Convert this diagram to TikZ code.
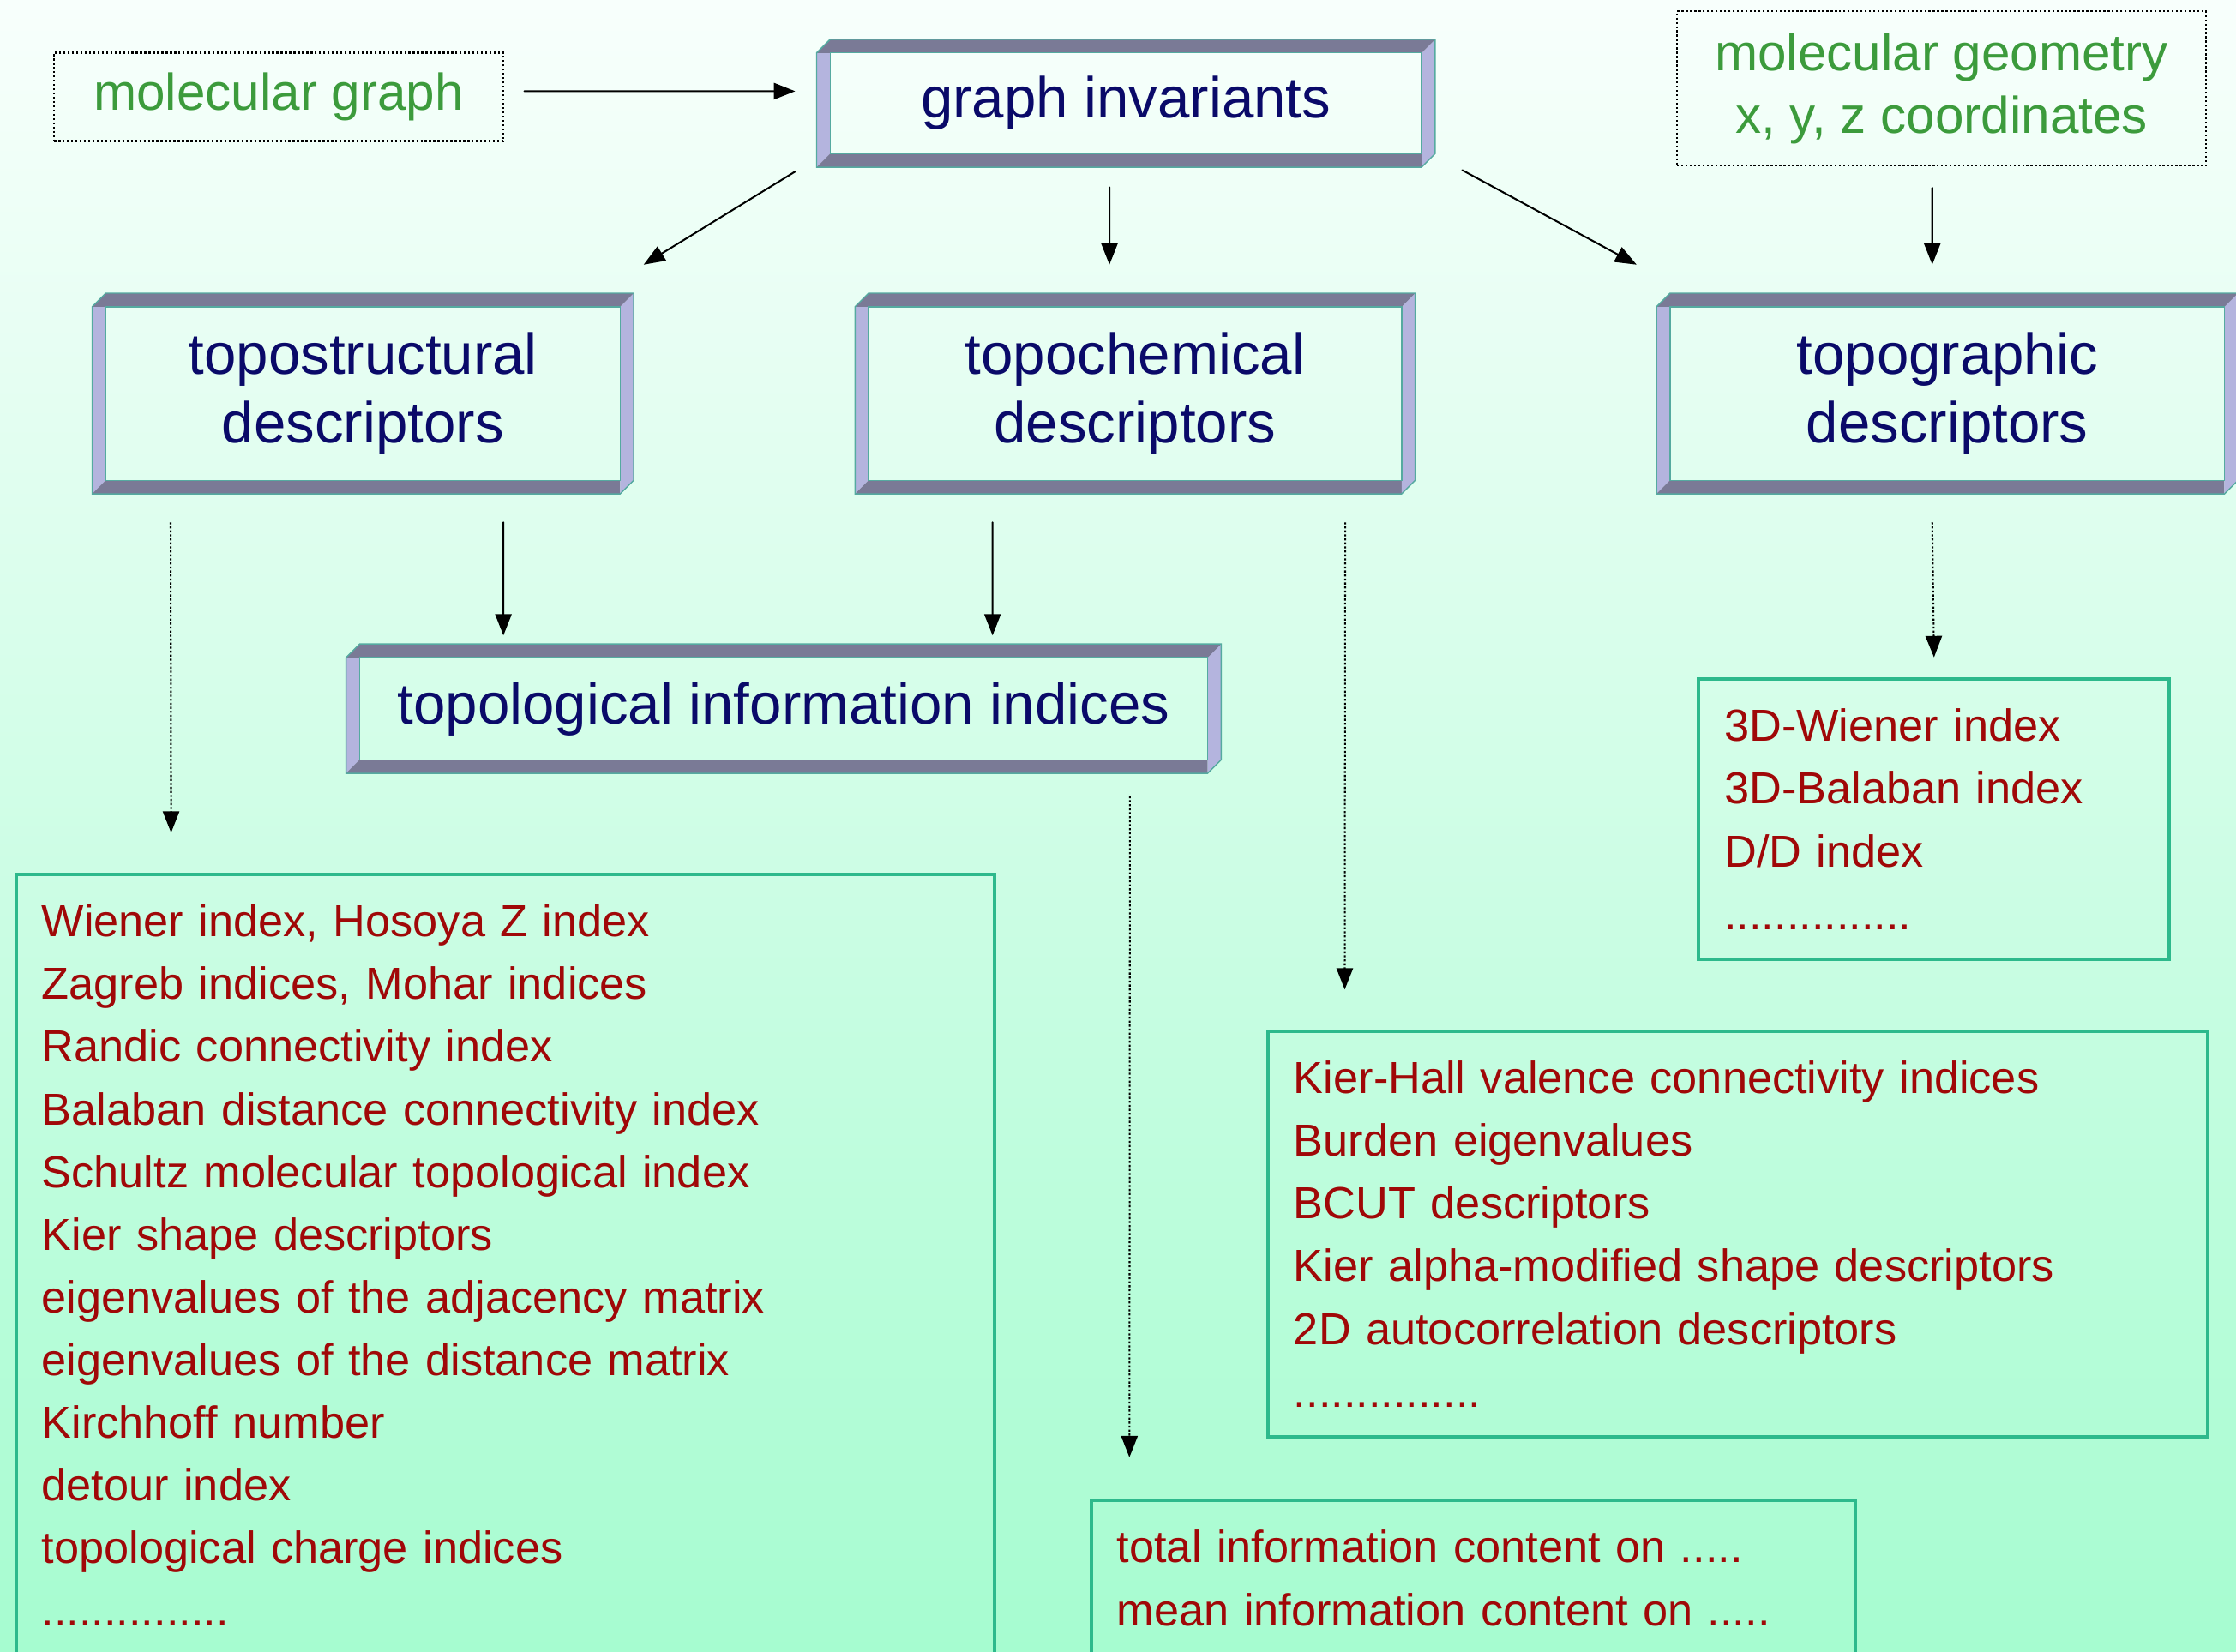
\documentclass[tikz,border=0pt]{standalone}
\usepackage{fontspec}
\setmainfont{Liberation Sans}
\usepackage{tikz}
\usetikzlibrary{arrows.meta}

%bevelled frame round a named node
\newcommand{\bevelw}{0.19cm}
\newcommand{\bevelframe}[1]{%
	\fill[bevellight] ([yshift=-\bevelw]#1.north west) -- ([shift={(\bevelw,-\bevelw)}]#1.north west) -- ([shift={(\bevelw,\bevelw)}]#1.south west) -- (#1.south west) -- cycle;
	\fill[beveldark] (#1.south west) -- ([shift={(\bevelw,\bevelw)}]#1.south west) -- ([shift={(-\bevelw,\bevelw)}]#1.south east) -- ([xshift=-\bevelw]#1.south east) -- cycle;
	\fill[bevellight] ([shift={(-\bevelw,-\bevelw)}]#1.north east) -- (#1.north east) -- ([yshift=\bevelw]#1.south east) -- ([xshift=-\bevelw]#1.south east) -- cycle;
	\fill[beveldark] ([yshift=-\bevelw]#1.north west) -- ([xshift=\bevelw]#1.north west) -- (#1.north east) -- ([shift={(-\bevelw,-\bevelw)}]#1.north east) -- cycle;
	\draw[beveledge,line width=0.5pt] ([shift={(\bevelw,-\bevelw)}]#1.north west) rectangle ([shift={(-\bevelw,\bevelw)}]#1.south east);
	\draw[beveledge,line width=0.5pt] ([yshift=-\bevelw]#1.north west) -- ([xshift=\bevelw]#1.north west) -- (#1.north east) -- ([yshift=\bevelw]#1.south east) -- ([xshift=-\bevelw]#1.south east) -- (#1.south west) -- cycle;
}

\begin{document}
\begin{tikzpicture}
		[scale=1,line cap=round,
		%Styles
		titlebox/.style={text=titleblue,font=\fontsize{23}{27.3}\selectfont,align=center,inner sep=0pt},
		sourcebox/.style={draw,line cap=butt,dash pattern=on 0.8pt off 0.9pt,line width=0.8pt,text=sourcegreen,font=\fontsize{20.6}{25}\selectfont,align=center,inner sep=0pt},
		itembox/.style={draw=itemedge,line width=1.4pt,text=itemred,font=\fontsize{17.9}{25}\selectfont,align=left,anchor=north west,inner xsep=0.36cm,inner ysep=0.42cm},
		arrowline/.style={line width=0.7pt,-{Triangle[length=0.3cm,width=0.23cm]}},
		dotline/.style={arrowline,line cap=butt,dash pattern=on 0.8pt off 0.8pt}
		]
		
		%Colors
		\definecolor{bgtop}{RGB}{248,255,252}
		\definecolor{bgbottom}{RGB}{166,252,208}
		\definecolor{titleblue}{RGB}{10,10,105}
		\definecolor{sourcegreen}{RGB}{60,155,60}
		\definecolor{itemred}{RGB}{160,8,8}
		\definecolor{itemedge}{RGB}{45,185,140}
		\definecolor{beveldark}{RGB}{122,122,150}
		\definecolor{bevellight}{RGB}{180,180,222}
		\definecolor{beveledge}{RGB}{85,170,160}
		
		%Background
		\useasboundingbox (0,0) rectangle (31.36,23.16);
		\shade[top color=bgtop,bottom color=bgbottom] (0,0) rectangle (31.36,23.16);
		
		%Inputs
		\node[sourcebox,minimum width=6.30cm,minimum height=1.24cm] (molgraph) at (3.91,21.80) {molecular graph};
		\node[sourcebox,minimum width=7.42cm,minimum height=2.16cm] (geometry) at (27.23,21.92) {molecular geometry\\x, y, z coordinates};
		
		%Bevelled boxes
		\node[titlebox,minimum width=8.66cm,minimum height=1.78cm] (invariants) at (15.79,21.71) {graph invariants};
		\node[titlebox,minimum width=7.58cm,minimum height=2.80cm] (structural) at (5.09,17.64) {topostructural\\descriptors};
		\node[titlebox,minimum width=7.84cm,minimum height=2.80cm] (chemical) at (15.92,17.64) {topochemical\\descriptors};
		\node[titlebox,minimum width=8.14cm,minimum height=2.80cm] (graphic) at (27.31,17.64) {topographic\\descriptors};
		\node[titlebox,minimum width=12.26cm,minimum height=1.80cm] (information) at (10.99,13.22) {topological information indices};
		\foreach \b in {invariants,structural,chemical,graphic,information}
			\bevelframe{\b};
		
		%Lists
		\node[itembox,text width=13.0cm] (structlist) at (0.20,10.92) {Wiener index, Hosoya Z index\\Zagreb indices, Mohar indices\\Randic connectivity index\\Balaban distance connectivity index\\Schultz molecular topological index\\Kier shape descriptors\\eigenvalues of the adjacency matrix\\eigenvalues of the distance matrix\\Kirchhoff number\\detour index\\topological charge indices\\...............};
		\node[itembox,text width=12.46cm] (chemlist) at (17.76,8.72) {Kier-Hall valence connectivity indices\\Burden eigenvalues\\BCUT descriptors\\Kier alpha-modified shape descriptors\\2D autocorrelation descriptors\\...............};
		\node[itembox,text width=5.88cm] (graphlist) at (23.80,13.66) {3D-Wiener index\\3D-Balaban index\\D/D index\\...............};
		\node[itembox,text width=10.0cm] (infolist) at (15.28,2.14) {total information content on .....\\mean information content on .....};
		
		%Connectors
		\draw[arrowline] ([shift={(0.28,0.08)}]molgraph.east) -- ([shift={(-0.30,0.17)}]invariants.west);
		\draw[arrowline] ([shift={(-0.30,-0.06)}]invariants.south west) -- ([shift={(0.14,0.40)}]structural.north east);
		\draw[arrowline] ([shift={(-0.23,-0.28)}]invariants.south) -- ([shift={(-0.36,0.40)}]chemical.north);
		\draw[arrowline] ([shift={(0.38,-0.04)}]invariants.south east) -- ([shift={(-0.28,0.40)}]graphic.north west);
		\draw[arrowline] ([shift={(-0.13,-0.30)}]geometry.south) -- ([shift={(-0.21,0.40)}]graphic.north);
		
		\draw[dotline] ([shift={(1.10,-0.40)}]structural.south west) -- ([shift={(2.20,0.56)}]structlist.north west);
		\draw[arrowline] ([shift={(1.97,-0.40)}]structural.south) -- ([shift={(-3.93,0.12)}]information.north);
		\draw[arrowline] ([shift={(-2.00,-0.40)}]chemical.south) -- ([shift={(2.93,0.12)}]information.north);
		\draw[dotline] ([shift={(-0.98,-0.40)}]chemical.south east) -- ([shift={(1.10,0.56)}]chemlist.north west);
		\draw[dotline] ([shift={(-0.21,-0.40)}]graphic.south) -- ([yshift=0.28cm]graphlist.north);
		\draw[dotline] ([shift={(-1.28,-0.32)}]information.south east) -- ([shift={(0.56,0.58)}]infolist.north west);
	\end{tikzpicture}
\end{document}
